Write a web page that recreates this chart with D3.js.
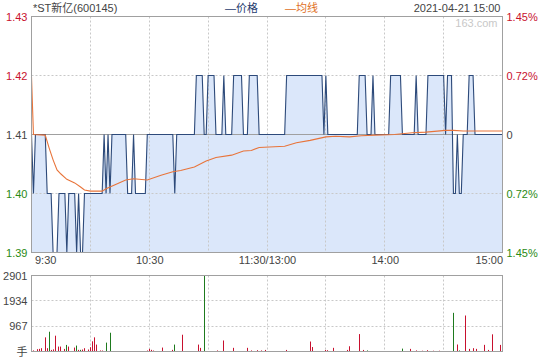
<!DOCTYPE html>
<html><head><meta charset="utf-8">
<script src="https://cdn.jsdelivr.net/npm/d3@7"></script>
<style>body{margin:0;background:#fff} svg{display:block} text{font-family:"Liberation Sans",Arial,"Noto Sans CJK SC",sans-serif;font-size:11px}</style>
</head><body>
<svg id="c" width="540" height="360"></svg>
<script>
const title = "*ST新亿(600145)";
const dateLabel = "2021-04-21 15:00";
const legendPrice = "—价格";
const legendAvg = "—均线";
const watermark = "163.com";
const prevClose = 1.41;
const priceTicks = [1.43, 1.42, 1.41, 1.40, 1.39];
const priceTickLabels = ["1.43", "1.42", "1.41", "1.40", "1.39"];
const pctTickLabels = ["1.45%", "0.72%", "0", "0.72%", "1.45%"];
const timeTicks = [0, 60, 120, 180, 240];
const timeLabels = ["9:30", "10:30", "11:30/13:00", "14:00", "15:00"];
const gridMinutes = [30, 60, 90, 120, 150, 180, 210];
const volTicks = [2901, 1934, 967];
const volTickLabels = ["2901", "1934", "967"];
const volUnit = "手";
const volMax = 2901;

const price = [
1.41,1.40,1.41,1.41,1.41,1.41,1.41,1.41,1.40,1.40,
1.40,1.39,1.39,1.39,1.40,1.40,1.40,1.40,1.39,1.40,
1.40,1.40,1.40,1.39,1.40,1.39,1.39,1.40,1.40,1.40,
1.40,1.40,1.40,1.40,1.40,1.40,1.40,1.41,1.40,1.41,
1.40,1.41,1.41,1.41,1.41,1.41,1.41,1.41,1.41,1.40,
1.40,1.40,1.41,1.40,1.40,1.40,1.40,1.40,1.40,1.41,
1.41,1.41,1.41,1.41,1.41,1.41,1.41,1.41,1.41,1.41,
1.41,1.41,1.41,1.40,1.41,1.41,1.41,1.41,1.41,1.41,
1.41,1.41,1.41,1.41,1.42,1.42,1.42,1.42,1.41,1.41,
1.42,1.42,1.42,1.42,1.41,1.41,1.41,1.41,1.42,1.41,
1.41,1.41,1.41,1.42,1.42,1.42,1.42,1.42,1.41,1.41,
1.41,1.42,1.42,1.42,1.42,1.42,1.41,1.41,1.41,1.41,
1.41,1.41,1.41,1.41,1.41,1.41,1.41,1.41,1.41,1.41,
1.42,1.42,1.42,1.42,1.42,1.42,1.42,1.42,1.42,1.42,
1.42,1.42,1.42,1.42,1.42,1.42,1.42,1.42,1.42,1.41,
1.42,1.41,1.41,1.41,1.41,1.41,1.41,1.41,1.41,1.41,
1.41,1.41,1.41,1.41,1.41,1.41,1.41,1.42,1.42,1.42,
1.42,1.41,1.41,1.41,1.42,1.41,1.41,1.41,1.41,1.41,
1.41,1.41,1.41,1.42,1.42,1.42,1.42,1.42,1.42,1.41,
1.41,1.41,1.41,1.41,1.41,1.41,1.42,1.41,1.41,1.41,
1.41,1.41,1.42,1.42,1.42,1.42,1.42,1.42,1.42,1.42,
1.42,1.41,1.42,1.42,1.42,1.40,1.40,1.41,1.40,1.40,
1.41,1.41,1.41,1.42,1.42,1.42,1.41,1.41,1.41,1.41,
1.41,1.41,1.41,1.41,1.41,1.41,1.41,1.41,1.41,1.41,
1.41
];

const avgMinute = [0,1,7,9,11,13,15,18,22,25,27,30,36,38,42,48,52,59,66,72,76,83,89,94,102,108,112,116,129,135,142,150,155,162,168,175,185,194,201,211,215,220,240];
const avgValue  = [1.4198,1.4100,1.4099,1.4077,1.4057,1.4040,1.4033,1.4024,1.4018,1.4011,1.4006,1.4004,1.4004,1.4008,1.4014,1.4023,1.4025,1.4023,1.4031,1.4037,1.4039,1.4045,1.4055,1.4061,1.4065,1.4072,1.4073,1.4078,1.4080,1.4086,1.4090,1.4096,1.4097,1.4096,1.4098,1.4099,1.4100,1.4103,1.4104,1.4107,1.4107,1.4106,1.4106];

const volMinute = [0,1,3,4,5,7,8,9,10,11,12,14,15,17,18,19,22,23,24,25,26,27,29,30,31,32,33,35,36,38,40,59,60,61,62,67,72,73,77,85,86,88,95,98,103,110,112,115,117,119,130,142,143,150,151,154,161,162,167,169,171,189,193,196,199,202,205,208,215,217,218,221,223,225,227,231,233,235,239];
const volValue  = [414,40,88,100,126,540,126,754,60,80,603,188,188,100,251,188,150,226,63,63,75,126,75,163,389,540,264,40,38,339,716,38,100,63,38,150,63,264,640,264,138,2901,40,420,140,140,40,50,40,60,60,380,170,60,50,140,60,200,665,60,40,110,100,40,30,50,30,30,1476,267,40,1374,100,127,100,254,60,656,252];
const volUp     = [1,1,1,1,1,1,1,0,1,1,1,1,1,1,0,1,1,0,1,0,1,1,1,1,1,1,1,1,1,0,0,1,1,1,1,1,1,0,1,1,1,0,1,1,1,1,1,1,1,1,1,1,1,1,1,1,1,1,1,1,0,0,1,1,1,1,1,1,0,1,0,1,1,1,1,1,1,1,1];

const RED = "#c8102e", GREEN = "#2a8a12", GRAY = "#444";
const svg = d3.select("#c");
const L = 31.5, R = 502.5, PT = 16.5, PB = 252.5, VT = 275.5, VB = 351.5;
const x = d3.scaleLinear().domain([0, 240]).range([L, R]);
const y = d3.scaleLinear().domain([1.39, 1.43]).range([PB, PT]);
const yv = d3.scaleLinear().domain([0, volMax]).range([VB, VT]);
const snap = v => Math.floor(v) + 0.5;
const colorOf = v => v > prevClose + 1e-9 ? RED : (v < prevClose - 1e-9 ? GREEN : GRAY);

// price area
svg.append("path").datum(price)
  .attr("fill", "#dbe7fa")
  .attr("d", d3.area().x((d, i) => x(i)).y0(PB).y1(d => y(d)));

// grids
const grid = svg.append("g").attr("stroke", "#c8c8c8").attr("stroke-dasharray", "2,2").attr("fill", "none");
gridMinutes.forEach(m => {
  grid.append("line").attr("x1", snap(x(m))).attr("x2", snap(x(m))).attr("y1", PT).attr("y2", PB);
  grid.append("line").attr("x1", snap(x(m))).attr("x2", snap(x(m))).attr("y1", VT).attr("y2", VB);
});
[1.42, 1.40].forEach(p => grid.append("line").attr("x1", L).attr("x2", R).attr("y1", y(p)).attr("y2", y(p)));
[1934, 967].forEach(v => grid.append("line").attr("x1", L).attr("x2", R).attr("y1", snap(yv(v))).attr("y2", snap(yv(v))));

// prev close line
svg.append("line").attr("x1", L).attr("x2", R).attr("y1", y(prevClose)).attr("y2", y(prevClose)).attr("stroke", "#a0a0a0");

// price line
svg.append("path").datum(price).attr("fill", "none").attr("stroke", "#2d4a7a").attr("stroke-width", 1.1)
  .attr("d", d3.line().x((d, i) => x(i)).y(d => y(d)));
// average line
svg.append("path").datum(avgMinute.map((m, k) => [m, avgValue[k]])).attr("fill", "none")
  .attr("stroke", "#e8743a").attr("stroke-width", 1.1)
  .attr("d", d3.line().x(d => x(d[0])).y(d => y(d[1])));

// volume bars
svg.append("g").selectAll("line").data(volMinute).join("line")
  .attr("x1", (m) => snap(x(m))).attr("x2", (m) => snap(x(m)))
  .attr("y1", VB).attr("y2", (m, k) => yv(volValue[k]))
  .attr("stroke", (m, k) => volUp[k] ? "#c8102e" : "#1e7a1e").attr("stroke-width", 1);

// borders
svg.append("rect").attr("x", L).attr("y", PT).attr("width", R - L).attr("height", PB - PT).attr("fill", "none").attr("stroke", "#a0a0a0");
svg.append("rect").attr("x", L).attr("y", VT).attr("width", R - L).attr("height", VB - VT).attr("fill", "none").attr("stroke", "#a0a0a0");

// left price labels
const yAxisL = d3.axisLeft(y).tickValues(priceTicks).tickSize(0).tickPadding(4).tickFormat((d, i) => priceTickLabels[i]);
const gL = svg.append("g").attr("transform", `translate(${L},0)`).call(yAxisL);
gL.select(".domain").remove();
gL.selectAll("text").attr("fill", d => colorOf(d)).style("font-size", "11px").style("font-family", '"Liberation Sans",Arial');
// right pct labels
const yAxisR = d3.axisRight(y).tickValues(priceTicks).tickSize(0).tickPadding(4).tickFormat((d, i) => pctTickLabels[i]);
const gR = svg.append("g").attr("transform", `translate(${R},0)`).call(yAxisR);
gR.select(".domain").remove();
gR.selectAll("text").attr("fill", d => colorOf(d)).style("font-size", "11px").style("font-family", '"Liberation Sans",Arial');

// time axis
const xAxis = d3.axisBottom(x).tickValues(timeTicks).tickSize(0).tickPadding(4).tickFormat((d, i) => timeLabels[i]);
const gX = svg.append("g").attr("transform", `translate(0,${PB})`).call(xAxis);
gX.select(".domain").remove();
gX.selectAll("text").attr("fill", GRAY).style("font-size", "11px").style("font-family", '"Liberation Sans",Arial')
  .attr("text-anchor", (d, i) => i === 0 ? "start" : (i === timeTicks.length - 1 ? "end" : "middle"))
  .attr("dx", (d, i) => i === 0 ? 3 : 0);

// volume axis
const yvAxis = d3.axisLeft(yv).tickValues(volTicks).tickSize(0).tickPadding(4).tickFormat((d, i) => volTickLabels[i]);
const gV = svg.append("g").attr("transform", `translate(${L},0)`).call(yvAxis);
gV.select(".domain").remove();
gV.selectAll("text").attr("fill", GRAY).style("font-size", "11px").style("font-family", '"Liberation Sans",Arial');
svg.append("text").attr("x", L - 4).attr("y", VB + 4).attr("text-anchor", "end").attr("fill", GRAY)
  .style("font-family", '"Noto Sans CJK SC"').style("font-size", "11px").text(volUnit);

// header
svg.append("text").attr("x", 33).attr("y", 12).attr("fill", GRAY).text(title);
svg.append("text").attr("x", 225).attr("y", 12).attr("fill", "#1f3c6e").text(legendPrice);
svg.append("text").attr("x", 285).attr("y", 12).attr("fill", "#e0701e").text(legendAvg);
svg.append("text").attr("x", R - 2).attr("y", 12).attr("text-anchor", "end").attr("fill", GRAY).text(dateLabel);
svg.append("text").attr("x", R - 5).attr("y", 27).attr("text-anchor", "end").attr("fill", "#c8c8c8").text(watermark);
</script>
</body></html>
